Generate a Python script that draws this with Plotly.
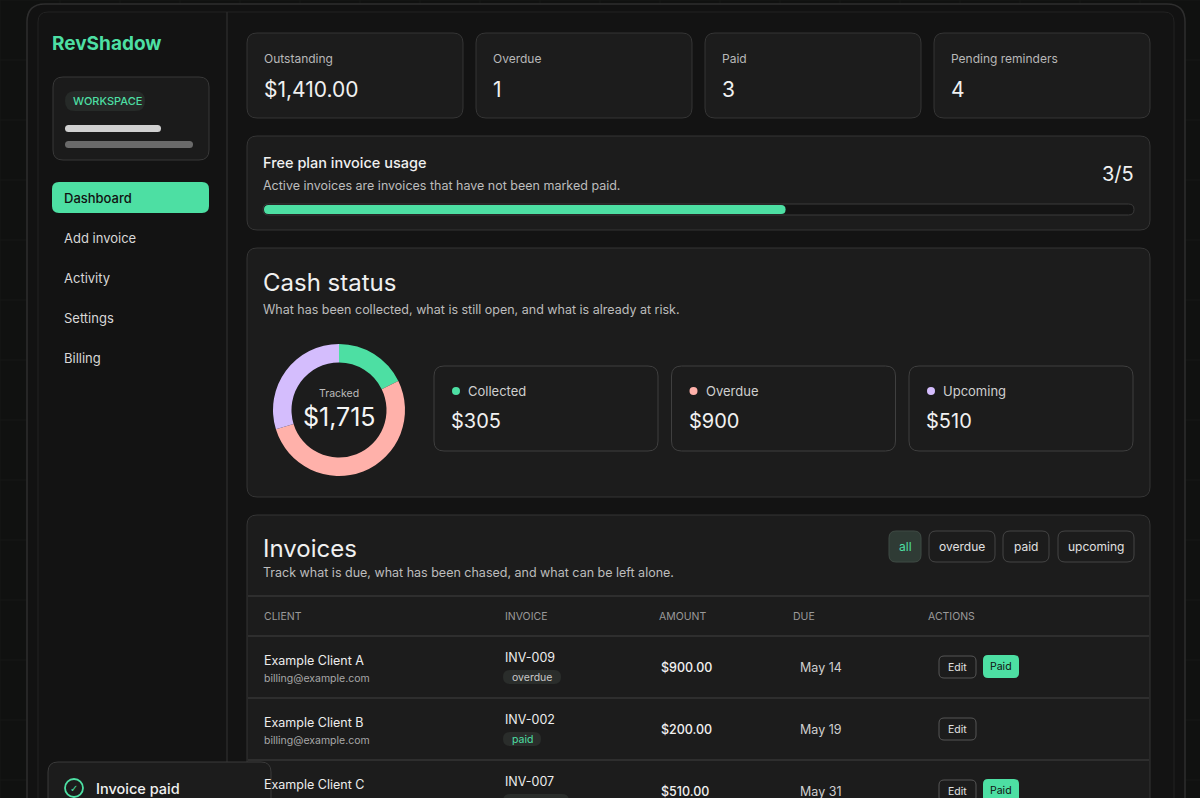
import plotly.graph_objects as go

stat_labels = ["Outstanding", "Overdue", "Paid", "Pending reminders"]
stat_values = ["$1,410.00", "1", "3", "4"]
usage_used, usage_limit = 3, 5
cash_labels = ["Collected", "Overdue", "Upcoming"]
cash_values = [305, 900, 510]
cash_colors = ["#4ddfa3", "#ffb1aa", "#d4bdfd"]
nav_items = ["Dashboard", "Add invoice", "Activity", "Settings", "Billing"]
filters = ["all", "overdue", "paid", "upcoming"]
columns = ["CLIENT", "INVOICE", "AMOUNT", "DUE", "ACTIONS"]
clients = ["Example Client A", "Example Client B", "Example Client C"]
emails = ["billing@example.com", "billing@example.com", "billing@example.com"]
invoices = ["INV-009", "INV-002", "INV-007"]
statuses = ["overdue", "paid", "upcoming"]
amounts = ["$900.00", "$200.00", "$510.00"]
dues = ["May 14", "May 19", "May 31"]

W, H = 1200, 798
FONT = "Inter"
GREEN = "#4ddfa3"
shapes, ann = [], []

def rr(x0, y0, x1, y1, r, fill, line="rgba(0,0,0,0)", lw=1):
    p = (f"M{x0+r},{y0} L{x1-r},{y0} Q{x1},{y0} {x1},{y0+r} L{x1},{y1-r} Q{x1},{y1} {x1-r},{y1} "
         f"L{x0+r},{y1} Q{x0},{y1} {x0},{y1-r} L{x0},{y0+r} Q{x0},{y0} {x0+r},{y0} Z")
    shapes.append(dict(type="path", path=p, xref="x", yref="y", fillcolor=fill,
                       line=dict(color=line, width=lw), layer="below"))

def txt(x, y, s, size, color="#e8e8e8", anchor="left", weight=None, family=FONT):
    if anchor == "left":
        x -= 2
    elif anchor == "right":
        x += 2
    ann.append(dict(x=x, y=y, xref="x", yref="y", text=s, showarrow=False, xanchor=anchor,
                    yanchor="middle", font=dict(size=size, color=color, family=family,
                                                weight=weight if weight else 400)))

def line(x0, y0, x1, y1, color="#333333", w=1):
    shapes.append(dict(type="line", x0=x0, y0=y0, x1=x1, y1=y1, xref="x", yref="y",
                       line=dict(color=color, width=w), layer="below"))

# background grid
for gx in range(0, W, 60):
    line(gx, 0, gx, H, "#171917", 1)
for gy in range(0, H, 60):
    line(0, gy, W, gy, "#171917", 1)
# frame
rr(27, 4, 1185, 830, 18, "#121212", "#2e2e2e", 1.5)
rr(38, 12, 1174, 830, 10, "#131313", "#222222", 1)
line(227, 12, 227, 798, "#2a2a2a", 1.5)

# sidebar
txt(52, 43, "RevShadow", 19, GREEN, weight=700)
rr(53, 77, 209, 160, 10, "#1b1b1b", "#383838")
rr(65, 91, 145, 111, 10, "#262a28")
txt(73, 101, "WORKSPACE", 11, GREEN, weight=500)
rr(65, 125, 161, 132, 3.5, "#d0d0d0")
rr(65, 141, 193, 148, 3.5, "#6a6a6a")
for i, n in enumerate(nav_items):
    y = 198 + 40 * i
    if i == 0:
        rr(52, 182, 209, 213, 7, GREEN)
        txt(64, y, n, 13, "#111111", weight=500)
    else:
        txt(64, y, n, 13, "#d8d8d8")

# stat cards
for i, (l, v) in enumerate(zip(stat_labels, stat_values)):
    x0 = 247 + 229 * i
    rr(x0, 33, x0 + 216, 118, 10, "#1c1c1c", "#353535")
    txt(x0 + 17, 58, l, 12, "#b8b8b8")
    txt(x0 + 17, 89, v, 21, "#f0f0f0")

# usage card
rr(247, 136, 1150, 230, 10, "#1c1c1c", "#353535")
txt(263, 163, "Free plan invoice usage", 14.5, "#f0f0f0", weight=500)
txt(263, 185, "Active invoices are invoices that have not been marked paid.", 12.5, "#bdbdbd")
txt(1134, 174, f"{usage_used}/{usage_limit}", 20, "#f0f0f0", anchor="right")
rr(263, 204, 1134, 215, 5.5, "#141414", "#3a3a3a")
fx = 263 + (1134 - 263) * (usage_used / usage_limit)
rr(264, 205, fx, 214, 4.5, GREEN)

# cash card
rr(247, 248, 1150, 497, 10, "#1c1c1c", "#353535")
txt(263, 282, "Cash status", 24, "#f0f0f0")
txt(263, 309, "What has been collected, what is still open, and what is already at risk.", 12.5, "#bdbdbd")
txt(339, 393, "Tracked", 10.5, "#bdbdbd", anchor="center")
txt(339, 417, f"${sum(cash_values):,}", 25, "#f5f5f5", anchor="center")
for i, (l, v, c) in enumerate(zip(cash_labels, cash_values, cash_colors)):
    x0 = 434 + 237.5 * i
    rr(x0, 366, x0 + 224, 451, 10, "#1c1c1c", "#3f3f3f")
    shapes.append(dict(type="circle", x0=x0 + 18, y0=387, x1=x0 + 26, y1=395, xref="x", yref="y",
                       fillcolor=c, line=dict(width=0)))
    txt(x0 + 34, 391, l, 13, "#cfcfcf")
    txt(x0 + 17, 421, f"${v:,}", 20, "#f0f0f0")

# invoices card
rr(247, 515, 1150, 830, 10, "#1c1c1c", "#353535")
txt(263, 548, "Invoices", 24, "#f0f0f0")
txt(263, 572, "Track what is due, what has been chased, and what can be left alone.", 12.5, "#bdbdbd")
fx0 = [889, 929, 1003, 1058]
fx1 = [921, 995, 1049, 1134]
for f, a, b in zip(filters, fx0, fx1):
    if f == "all":
        rr(a, 531, b, 562, 7, "#2f3b35", "#3f4a44")
        txt((a + b) / 2, 546, f, 12, GREEN, anchor="center")
    else:
        rr(a, 531, b, 562, 7, "#1c1c1c", "#444444")
        txt((a + b) / 2, 546, f, 12, "#e0e0e0", anchor="center")
line(248, 596, 1149, 596, "#353535", 1.5)
colx = [264, 505, 659, 793, 928]
for c, x in zip(columns, colx):
    txt(x, 616, c, 10.5, "#9a9a9a")
rows_y = [636, 698, 760]
for i in range(3):
    yt = rows_y[i]
    line(248, yt, 1149, yt, "#353535", 1.5)
    txt(264, yt + 24, clients[i], 12.5, "#ededed")
    txt(264, yt + 42, emails[i], 10.5, "#a8a8a8")
    txt(505, yt + 21, invoices[i], 12.5, "#ededed")
    st = statuses[i]
    w = 58 if st == "overdue" else (38 if st == "paid" else 66)
    rr(503, yt + 34, 503 + w, yt + 48, 7, "#2a2d2b")
    txt(503 + w / 2, yt + 41, st, 10.5, GREEN if st == "paid" else "#c8c8c8", anchor="center")
    txt(661, yt + 31, amounts[i], 12.5, "#f0f0f0", weight=500)
    txt(800, yt + 31, dues[i], 12.5, "#cfcfcf")
    rr(939, yt + 20, 976, yt + 42, 5, "#1c1c1c", "#555555")
    txt(957.5, yt + 31, "Edit", 10.5, "#e0e0e0", anchor="center")
    if st != "paid":
        rr(983, yt + 19, 1019, yt + 42, 5, GREEN)
        txt(1001, yt + 30.5, "Paid", 10.5, "#111111", anchor="center")

# toast
rr(48, 762, 271, 830, 10, "#1c1c1c", "#3a3a3a")
shapes.append(dict(type="circle", x0=65, y0=779, x1=83, y1=797, xref="x", yref="y",
                   fillcolor="rgba(0,0,0,0)", line=dict(color=GREEN, width=1.8)))
txt(74, 788, "✓", 10, GREEN, anchor="center", family="DejaVu Sans")
txt(96, 788, "Invoice paid", 14.5, "#f0f0f0", weight=500)

pie = go.Pie(values=cash_values, labels=cash_labels, marker=dict(colors=cash_colors, line=dict(width=0)),
             hole=0.72, sort=False, direction="clockwise", rotation=0, textinfo="none",
             showlegend=False, domain=dict(x=[(339 - 66) / W, (339 + 66) / W],
                                           y=[1 - (410 + 66) / H, 1 - (410 - 66) / H]))
fig = go.Figure(pie)
fig.update_layout(width=W, height=H, margin=dict(l=0, r=0, t=0, b=0),
                  paper_bgcolor="#101110", plot_bgcolor="#101110",
                  xaxis=dict(range=[0, W], visible=False, fixedrange=True),
                  yaxis=dict(range=[H, 0], visible=False, fixedrange=True),
                  shapes=shapes, annotations=ann)
fig.write_html("out.html", config=dict(displayModeBar=False))
with open("out.html", encoding="utf-8") as fh:
    html = fh.read()
html = html.replace("<body>", '<body style="margin:0;padding:0;overflow:hidden;background:#101110">', 1)
with open("out.html", "w", encoding="utf-8") as fh:
    fh.write(html)
